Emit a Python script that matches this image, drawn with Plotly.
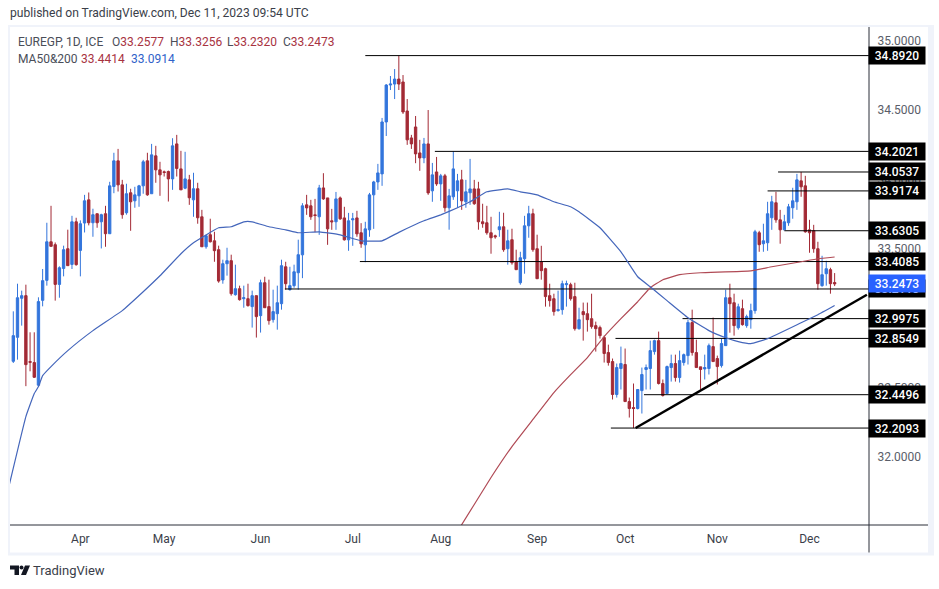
import plotly.graph_objects as go

# ---------- data ----------
opens = [32.690,32.863,33.144,33.163,32.688,32.681,32.518,33.129,33.273,33.551,33.530,33.244,33.359,33.501,33.388,33.695,33.489,33.686,33.853,33.688,
33.753,33.695,33.753,33.609,33.949,34.134,33.961,33.760,33.904,33.846,33.882,33.954,34.134,33.897,34.170,34.069,34.055,34.057,34.004,34.256,
34.076,33.937,33.997,33.853,33.933,33.731,33.515,33.602,33.558,33.494,33.276,33.393,33.415,33.170,33.213,33.141,33.141,33.084,33.163,33.019,
33.256,33.084,32.990,33.033,33.105,33.371,33.206,33.235,33.328,33.457,33.817,33.810,33.745,33.731,33.939,33.867,33.702,33.695,33.867,33.723,
33.565,33.709,33.723,33.616,33.529,33.637,33.889,33.982,34.040,34.414,34.680,34.687,34.723,34.702,34.493,34.299,34.378,34.191,34.155,34.256,
33.918,34.054,33.968,34.026,33.796,33.875,33.918,33.997,33.839,33.904,33.932,33.932,33.695,33.688,33.616,33.594,33.638,33.659,33.501,33.566,
33.407,33.256,33.429,33.666,33.753,33.501,33.407,33.357,33.163,33.141,33.055,33.062,33.242,33.242,33.156,32.925,33.048,33.033,32.997,32.947,
32.933,32.861,32.753,32.688,32.451,32.638,32.667,32.400,32.357,32.350,32.479,32.631,32.638,32.760,32.839,32.530,32.458,32.645,32.674,32.573,
32.681,32.731,32.969,32.753,32.650,32.635,32.638,32.796,32.710,32.659,32.803,33.148,33.112,32.932,33.069,32.947,32.990,33.055,33.616,33.537,
33.544,33.724,33.832,33.709,33.637,33.688,33.796,33.839,33.990,33.954,33.637,33.630,33.501,33.235,33.321,33.350,33.2577]
highs = [33.050,33.249,33.199,33.242,32.899,32.899,33.151,33.355,33.688,33.810,33.546,33.374,33.523,33.638,33.738,33.724,33.705,33.889,33.906,33.789,
33.753,33.753,33.810,33.983,34.192,34.220,33.997,33.969,33.933,33.947,33.961,34.141,34.192,34.256,34.242,34.127,34.064,34.064,34.297,34.321,
34.206,34.199,34.033,34.048,33.976,33.781,33.602,33.717,33.623,33.523,33.422,33.508,33.458,33.386,33.235,33.235,33.249,33.199,33.163,33.278,
33.299,33.278,33.206,33.235,33.422,33.407,33.371,33.386,33.566,33.829,33.889,33.853,33.860,33.961,34.045,33.867,33.788,33.910,33.877,33.803,
33.759,33.759,33.774,33.685,33.695,33.903,33.990,34.112,34.443,34.687,34.745,34.795,34.892,34.752,34.579,34.321,34.457,34.285,34.299,34.500,
34.119,34.162,34.040,34.040,33.932,34.202,34.040,34.069,33.997,34.148,33.997,33.983,33.825,33.810,33.731,33.602,33.767,33.760,33.638,33.645,
33.494,33.479,33.738,33.810,33.789,33.602,33.522,33.364,33.249,33.177,33.199,33.271,33.271,33.256,33.256,33.076,33.113,33.113,33.177,32.976,
32.947,32.875,32.810,32.710,32.674,32.796,32.782,32.429,32.530,32.487,32.645,32.667,32.839,32.846,32.904,32.559,32.659,32.738,32.738,32.767,
32.746,32.990,33.062,32.846,32.650,32.738,32.818,33.005,32.731,32.854,33.206,33.249,33.177,33.105,33.134,33.026,33.105,33.637,33.630,33.681,
33.839,33.882,33.911,33.781,33.745,33.824,33.940,34.040,34.054,34.026,33.709,33.673,33.551,33.450,33.414,33.364,33.3256]
lows = [32.678,32.702,32.947,32.511,32.618,32.570,32.515,33.086,33.235,33.518,33.127,33.148,33.302,33.379,33.355,33.379,33.302,33.618,33.669,33.587,
33.652,33.503,33.515,33.609,33.901,33.913,33.717,33.746,33.630,33.796,33.803,33.897,33.882,33.897,33.976,33.882,34.021,33.841,33.925,34.021,
33.925,33.930,33.817,33.731,33.681,33.515,33.501,33.546,33.407,33.256,33.249,33.307,33.163,33.163,33.127,33.076,33.084,32.933,32.861,32.897,
33.076,32.954,32.969,32.918,33.062,33.206,33.199,33.220,33.206,33.289,33.745,33.709,33.620,33.601,33.853,33.529,33.637,33.637,33.709,33.560,
33.486,33.522,33.587,33.508,33.404,33.587,33.644,33.925,33.954,34.313,34.644,34.579,34.644,34.472,34.249,34.220,34.117,34.062,34.117,33.889,
33.839,33.954,33.846,33.767,33.638,33.853,33.796,33.781,33.796,33.817,33.817,33.638,33.652,33.602,33.465,33.573,33.587,33.479,33.386,33.386,
33.350,33.242,33.321,33.580,33.479,33.285,33.278,33.084,33.084,33.019,33.048,33.026,33.084,33.127,32.911,32.918,32.839,32.904,32.925,32.760,
32.854,32.681,32.659,32.415,32.429,32.487,32.400,32.285,32.209,32.343,32.314,32.487,32.487,32.738,32.523,32.436,32.458,32.544,32.544,32.537,
32.659,32.667,32.731,32.645,32.487,32.559,32.595,32.688,32.523,32.645,32.803,32.896,32.875,32.918,32.947,32.932,32.925,33.033,33.479,33.479,
33.486,33.637,33.688,33.537,33.637,33.666,33.717,33.781,33.875,33.616,33.472,33.472,33.206,33.227,33.235,33.177,33.232]
closes = [32.875,33.148,33.163,32.666,32.683,32.575,33.120,33.271,33.551,33.518,33.244,33.364,33.494,33.379,33.695,33.386,33.681,33.846,33.688,33.746,
33.688,33.746,33.609,33.954,34.134,33.961,33.746,33.897,33.839,33.889,33.954,34.127,33.889,34.177,34.069,34.033,34.050,34.004,34.242,34.079,
33.925,34.004,33.868,33.933,33.724,33.515,33.594,33.551,33.487,33.268,33.393,33.415,33.177,33.213,33.134,33.148,33.091,33.163,33.012,33.256,
33.076,32.983,33.048,33.112,33.379,33.249,33.235,33.335,33.458,33.810,33.795,33.731,33.740,33.939,33.860,33.644,33.695,33.860,33.716,33.565,
33.702,33.716,33.608,33.536,33.644,33.889,33.982,34.047,34.414,34.680,34.687,34.723,34.687,34.486,34.285,34.256,34.184,34.155,34.256,33.903,
34.033,33.968,34.026,33.796,33.882,34.076,33.990,33.846,33.911,33.932,33.825,33.695,33.681,33.616,33.580,33.587,33.659,33.494,33.558,33.400,
33.350,33.436,33.666,33.753,33.494,33.285,33.343,33.156,33.127,33.048,33.062,33.249,33.249,33.141,32.925,32.990,33.026,32.990,32.940,32.925,
32.875,32.746,32.681,32.451,32.645,32.674,32.400,32.350,32.350,32.487,32.595,32.645,32.767,32.839,32.530,32.444,32.652,32.674,32.573,32.695,
32.738,32.969,32.753,32.645,32.631,32.645,32.803,32.688,32.652,32.818,33.148,33.105,32.947,33.083,32.954,33.012,33.055,33.623,33.530,33.558,
33.753,33.839,33.709,33.637,33.695,33.803,33.846,33.997,33.947,33.623,33.616,33.501,33.249,33.314,33.357,33.249,33.2473]

ma_blue_bar = [-1,3,5,6,7,9,13,19,26,31,35,40,43,49,52,55,57,61,65,68,73,78,83,88,92,98,102,106,109,113,118,121,125,129,133,135,140,145,149,152,156,161,166,170,173,176,180,188,192,196]
ma_blue_val = [31.795,32.292,32.458,32.508,32.587,32.652,32.767,32.911,33.055,33.191,33.306,33.465,33.544,33.652,33.659,33.695,33.695,33.659,33.637,33.616,33.623,33.601,33.558,33.558,33.619,33.702,33.745,33.796,33.839,33.911,33.932,33.911,33.889,33.839,33.803,33.767,33.652,33.479,33.299,33.227,33.127,33.004,32.911,32.860,32.832,32.817,32.853,32.968,33.026,33.0914]
ma_red_bar = [106,110,114,119,124,129,133,137,141,145,149,152,155,159,164,176,181,188,192,196]
ma_red_val = [31.465,31.659,31.853,32.076,32.271,32.465,32.594,32.717,32.868,32.997,33.119,33.220,33.278,33.314,33.328,33.342,33.371,33.407,33.429,33.4414]

level_vals = [34.8920,34.2021,34.0537,33.9174,33.6305,33.4085,33.2110,32.9975,32.8549,32.4496,32.2093]
level_from = [84,100.6,182.5,180,184,82.7,64.8,159.7,143.7,150.5,142.6]
trend_bar = [148.5,203.7]
trend_val = [32.2093,33.170]

month_bar = [16,36,59,81,102,125,146,168,190]
month_txt = ["Apr","May","Jun","Jul","Aug","Sep","Oct","Nov","Dec"]
price_ticks = [32.0,32.5,33.0,33.5,34.0,34.5,35.0]
last_price = 33.2473

# ---------- layout constants ----------
W, H = 939, 589
L_, R_, T_, B_ = 10, 869, 27, 525.5
X_RANGE = [-0.79, 204.2]
Y_RANGE = [31.511, 35.098]
FONT = "Roboto"
BLUE, RED = "#3375dc", "#a32a35"
INK = "#4a4e59"
STRIP = "#f0f3fa"

def xp(x): return (x - L_) / (R_ - L_)
def yp(y): return 1 - (y - T_) / (B_ - T_)

bars = list(range(len(opens)))
fig = go.Figure()

for v, k in zip(level_vals, level_from):
    fig.add_trace(go.Scatter(x=[k, X_RANGE[1]], y=[v, v], mode="lines",
                             line=dict(color="#000000", width=1), hoverinfo="skip", showlegend=False))

fig.add_trace(go.Candlestick(x=bars, open=opens, high=highs, low=lows, close=closes,
    increasing=dict(line=dict(color=BLUE, width=1), fillcolor=BLUE),
    decreasing=dict(line=dict(color=RED, width=1), fillcolor=RED),
    whiskerwidth=0, hoverinfo="skip", showlegend=False))

fig.add_trace(go.Scatter(x=ma_red_bar, y=ma_red_val, mode="lines", line=dict(color="#b04a55", width=1.2, shape="spline", smoothing=0.3),
                         hoverinfo="skip", showlegend=False))
fig.add_trace(go.Scatter(x=ma_blue_bar, y=ma_blue_val, mode="lines", line=dict(color="#4466bb", width=1.2, shape="spline", smoothing=0.3),
                         hoverinfo="skip", showlegend=False))
fig.add_trace(go.Scatter(x=trend_bar, y=trend_val, mode="lines", line=dict(color="#000000", width=2.4),
                         hoverinfo="skip", showlegend=False))

shapes = [
    dict(type="rect", xref="paper", yref="paper", x0=xp(8), x1=xp(934), y0=yp(556), y1=yp(25),
         fillcolor=STRIP, line=dict(width=0), layer="below"),
    dict(type="rect", xref="paper", yref="paper", x0=xp(10), x1=xp(928), y0=yp(553), y1=yp(27),
         fillcolor="#ffffff", line=dict(width=0), layer="below"),
    dict(type="line", xref="paper", yref="paper", x0=xp(10), x1=xp(928), y0=yp(B_), y1=yp(B_),
         line=dict(color="#2a2e39", width=1)),
    dict(type="line", xref="paper", yref="paper", x0=xp(R_), x1=xp(R_), y0=yp(27), y1=yp(553),
         line=dict(color="#2a2e39", width=1)),
    # logo
    dict(type="path", xref="paper", yref="paper", fillcolor="#131722", line=dict(width=0),
         path=f"M {xp(10)} {yp(566)} L {xp(19)} {yp(566)} L {xp(19)} {yp(575.5)} L {xp(14.5)} {yp(575.5)} L {xp(14.5)} {yp(570)} L {xp(10)} {yp(570)} Z"),
    dict(type="circle", xref="paper", yref="paper", fillcolor="#131722", line=dict(width=0),
         x0=xp(19.5), x1=xp(23.5), y0=yp(570), y1=yp(566)),
    dict(type="path", xref="paper", yref="paper", fillcolor="#131722", line=dict(width=0),
         path=f"M {xp(25)} {yp(566)} L {xp(30)} {yp(566)} L {xp(26)} {yp(575.5)} L {xp(21)} {yp(575.5)} Z"),
]

ann = []
def text(x, y, s, size=12, color=INK):
    # plotly pads annotation boxes by about 2px
    ann.append(dict(xref="paper", yref="paper", x=xp(x - 2), y=yp(y), text=s, showarrow=False,
                    xanchor="left", yanchor="middle", align="left",
                    font=dict(family=FONT, size=size, color=color)))

redt, bluet = "#a8333f", "#2f62c9"
def c(s, col): return f'<span style="color:{col}">{s}</span>'
text(10, 13, "published on TradingView.com, Dec 11, 2023 09:54 UTC", 12.1, "#3a3e49")
text(18, 42, "EUREGP, 1D, ICE")
text(112, 42, "O" + c("33.2577", redt))
text(170, 42, "H" + c("33.3256", redt))
text(227, 42, "L" + c("33.2320", redt))
text(283, 42, "C" + c("33.2473", redt))
text(18, 59, "MA50&200")
text(81, 59, c("33.4414", redt))
text(131, 59, c("33.0914", bluet))
text(33, 571, "TradingView", 13, "#3a3e49")

def price_label(v, bg):
    ann.append(dict(xref="paper", yref="y", x=1, xshift=-1, y=v, xanchor="left", yanchor="middle",
                    text=f"{v:.4f}", showarrow=False, width=54, height=15, borderpad=1,
                    bgcolor=bg, align="center", font=dict(family=FONT, size=12, color="#ffffff", weight=500)))
for v in level_vals:
    price_label(v, "#000000")
price_label(last_price, "#2962ff")

fig.update_layout(
    width=W, height=H, autosize=False,
    margin=dict(l=L_, r=W - R_, t=T_, b=H - B_, pad=0),
    paper_bgcolor="#ffffff", plot_bgcolor="rgba(0,0,0,0)",
    showlegend=False, shapes=shapes, annotations=ann, boxgroupgap=0.2,
    font=dict(family=FONT, size=12, color=INK),
    xaxis=dict(range=X_RANGE, rangeslider=dict(visible=False), showgrid=False, zeroline=False,
               tickmode="array", tickvals=month_bar, ticktext=month_txt, ticks="outside",
               ticklen=3, tickcolor="rgba(0,0,0,0)", tickfont=dict(family=FONT, size=12, color="#3a3e49"), showline=False),
    yaxis=dict(range=Y_RANGE, side="right", showgrid=False, zeroline=False, showline=False,
               tickmode="array", tickvals=price_ticks, ticktext=[f"{p:.4f}" for p in price_ticks],
               ticks="outside", ticklen=5, tickcolor="rgba(0,0,0,0)", tickfont=dict(family=FONT, size=12, color="#5a5e69")),
)

fig.write_html("out.html", config=dict(displayModeBar=False),
               post_script="document.body.style.margin='0';")
